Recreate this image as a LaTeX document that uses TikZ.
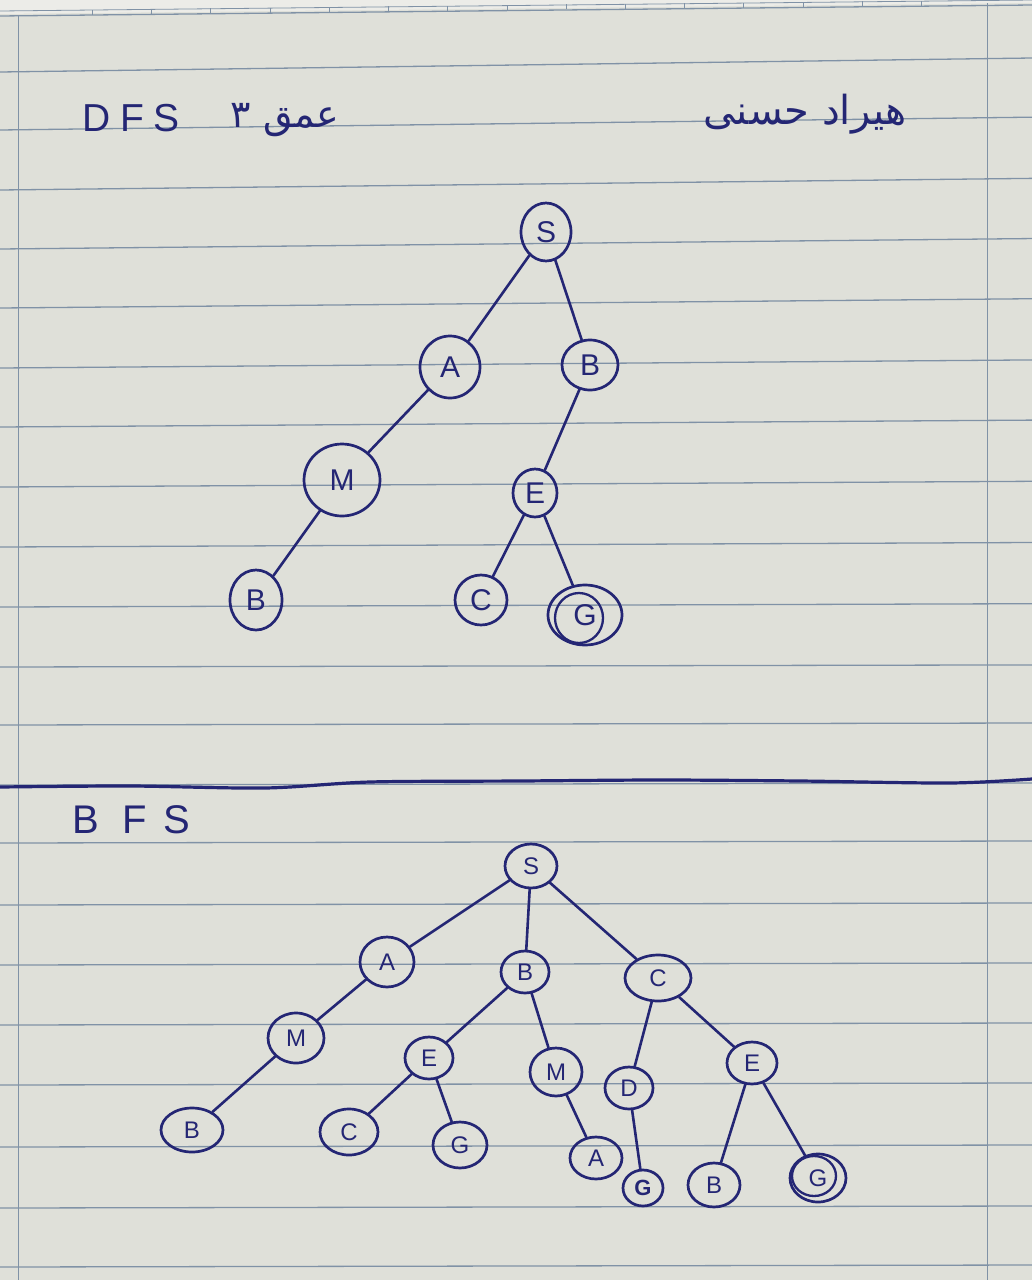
\documentclass[tikz,border=0pt]{standalone}
\usepackage{fontspec}
\setmainfont{Liberation Sans}
\newfontfamily\arabicfont[Script=Arabic]{DejaVu Sans}
\TeXXeTstate=1
\usetikzlibrary{shapes.geometric}
\definecolor{paper}{RGB}{223,224,217}
\definecolor{rulecol}{RGB}{128,146,166}
\definecolor{ink}{RGB}{36,38,116}
\begin{document}
\begin{tikzpicture}[x=1pt,y=-1pt,
  vtx/.style={draw=ink, ellipse, line width=2.7pt, inner sep=0pt, text=ink},
  bigl/.style={font=\fontsize{30}{30}\selectfont},
  smalll/.style={font=\fontsize{24}{24}\selectfont},
  edge/.style={draw=ink, line width=2.6pt, line cap=round},
  paperline/.style={draw=rulecol, line width=1.3pt},
  handtext/.style={text=ink, inner sep=0pt}]
% paper
\fill[paper] (0,0) rectangle (1032,1280);
\useasboundingbox (0,0) rectangle (1032,1280);
\fill[paper!60!white] (0,0) -- (1032,0) -- (1032,3) -- (0,14) -- cycle;
\draw[paperline] (0,16) -- (1032,5);
\draw[paperline, line width=0.8pt] (0,11) -- (1032,0);
\foreach \xx in {92,151,210,270,329,388,447,507,566,625,684,743,803,862,921} {
  \draw[rulecol, line width=0.7pt] (\xx,{15.5-\xx*0.0107}) -- (\xx,{10.5-\xx*0.0107});
}
\foreach \yy in {72,130,190,249,308,368,427,487,547,607,667,725,785,843,905,965,1025,1085,1147,1208,1267} {
  \pgfmathsetmacro\dd{max(2,14-(\yy-72)*0.02)}
  \draw[paperline] (0,\yy) -- (1032,\yy-\dd);
}
\draw[rulecol, line width=0.9pt] (18,15) -- (18,1280);
\draw[rulecol, line width=0.9pt] (987,3) -- (987,1280);

% headings
\node[handtext, font=\fontsize{39}{39}\selectfont] (dfs) at (131,118) {D\hspace{0.25em}F\hspace{0.25em}S};
\node[handtext, font=\arabicfont\fontsize{38}{44}\selectfont] (depth) at (285,120) {\beginR عمق ۳\endR};
\node[handtext, font=\arabicfont\fontsize{40}{44}\selectfont] (name) at (805,114) {\beginR هیراد حسنی\endR};
\node[handtext, font=\fontsize{40}{40}\selectfont] (bfs) at (131,820) {B\hspace{0.6em}F\hspace{0.4em}S};

% divider
\draw[ink, line width=3.2pt, line cap=round] plot[smooth] coordinates {(0,787) (130,786) (265,788) (370,782) (520,781) (660,780) (800,781) (950,783) (1032,779)};

% DFS tree
\node[vtx,bigl,minimum width=50pt,minimum height=58pt] (s1) at (546,232) {S};
\node[vtx,bigl,minimum width=60pt,minimum height=62pt] (a1) at (450,367) {A};
\node[vtx,bigl,minimum width=56pt,minimum height=50pt] (b1) at (590,365) {B};
\node[vtx,bigl,minimum width=76pt,minimum height=72pt] (m1) at (342,480) {M};
\node[vtx,bigl,minimum width=44pt,minimum height=48pt] (e1) at (535,493) {E};
\node[vtx,bigl,minimum width=52pt,minimum height=60pt] (bb1) at (256,600) {B};
\node[vtx,bigl,minimum width=52pt,minimum height=50pt] (c1) at (481,600) {C};
\node[vtx,bigl,minimum width=74pt,minimum height=60pt] (g1) at (585,615) {G};
\draw[ink, line width=2.3pt] (579,618) ellipse [x radius=24pt, y radius=25pt];
\draw[edge] (s1) -- (a1);
\draw[edge] (s1) -- (b1);
\draw[edge] (a1) -- (m1);
\draw[edge] (m1) -- (bb1);
\draw[edge] (b1) -- (e1);
\draw[edge] (e1) -- (c1);
\draw[edge] (e1) -- (g1);

% BFS tree
\node[vtx,smalll,minimum width=52pt,minimum height=44pt] (s2) at (531,866) {S};
\node[vtx,smalll,minimum width=54pt,minimum height=50pt] (a2) at (387,962) {A};
\node[vtx,smalll,minimum width=48pt,minimum height=42pt] (b2) at (525,972) {B};
\node[vtx,smalll,minimum width=66pt,minimum height=46pt] (c2) at (658,978) {C};
\node[vtx,smalll,minimum width=56pt,minimum height=50pt] (m2) at (296,1038) {M};
\node[vtx,smalll,minimum width=48pt,minimum height=42pt] (e2) at (429,1058) {E};
\node[vtx,smalll,minimum width=52pt,minimum height=48pt] (m3) at (556,1072) {M};
\node[vtx,smalll,minimum width=48pt,minimum height=42pt] (d2) at (629,1088) {D};
\node[vtx,smalll,minimum width=50pt,minimum height=42pt] (e3) at (752,1063) {E};
\node[vtx,smalll,minimum width=62pt,minimum height=44pt] (bb2) at (192,1130) {B};
\node[vtx,smalll,minimum width=58pt,minimum height=46pt] (cc2) at (349,1132) {C};
\node[vtx,smalll,minimum width=54pt,minimum height=46pt] (g2) at (460,1145) {G};
\node[vtx,smalll,minimum width=52pt,minimum height=42pt] (aa2) at (596,1158) {A};
\node[vtx,font=\fontsize{22}{22}\selectfont\bfseries,minimum width=40pt,minimum height=36pt] (gd) at (643,1188) {G};
\node[vtx,smalll,minimum width=52pt,minimum height=44pt] (bb3) at (714,1185) {B};
\node[vtx,smalll,minimum width=56pt,minimum height=48pt] (g3) at (818,1178) {G};
\draw[ink, line width=2.3pt] (814,1176) ellipse [x radius=22pt, y radius=20pt];
\draw[edge] (s2) -- (a2);
\draw[edge] (s2) -- (b2);
\draw[edge] (s2) -- (c2);
\draw[edge] (a2) -- (m2);
\draw[edge] (m2) -- (bb2);
\draw[edge] (b2) -- (e2);
\draw[edge] (b2) -- (m3);
\draw[edge] (e2) -- (cc2);
\draw[edge] (e2) -- (g2);
\draw[edge] (m3) -- (aa2);
\draw[edge] (c2) -- (d2);
\draw[edge] (c2) -- (e3);
\draw[edge] (d2) -- (gd);
\draw[edge] (e3) -- (bb3);
\draw[edge] (e3) -- (g3);
\end{tikzpicture}
\end{document}
